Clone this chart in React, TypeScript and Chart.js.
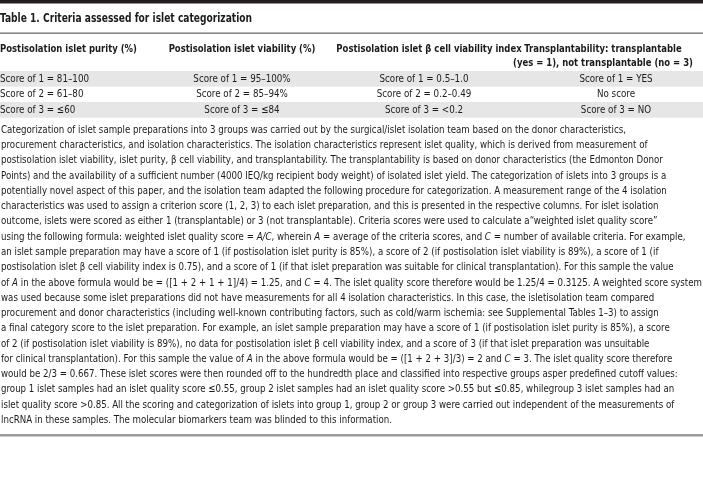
import React, { useEffect, useRef } from "react";
import { Chart, registerables } from "chart.js";

Chart.register(...registerables);

const titleText = "Table 1. Criteria assessed for islet categorization";

const headerLabels: string[][] = [
  ["Postisolation islet purity (%)"],
  ["Postisolation islet viability (%)"],
  ["Postisolation islet \u03B2 cell viability index"],
  ["Transplantability: transplantable", "(yes = 1), not transplantable (no = 3)"],
];

const purityScores = ["Score of 1 = 81\u2013100", "Score of 2 = 61\u201380", "Score of 3 = \u226460"];
const viabilityScores = ["Score of 1 = 95\u2013100%", "Score of 2 = 85\u201394%", "Score of 3 = \u226484"];
const betaIndexScores = ["Score of 1 = 0.5\u20131.0", "Score of 2 = 0.2\u20130.49", "Score of 3 = <0.2"];
const transplantScores = ["Score of 1 = YES", "No score", "Score of 3 = NO"];

// _X_ marks italic segments
const noteLines = [
  "Categorization of islet sample preparations into 3 groups was carried out by the surgical/islet isolation team based on the donor characteristics,",
  "procurement characteristics, and isolation characteristics. The isolation characteristics represent islet quality, which is derived from measurement of",
  "postisolation islet viability, islet purity, \u03B2 cell viability, and transplantability. The transplantability is based on donor characteristics (the Edmonton Donor",
  "Points) and the availability of a sufficient number (4000 IEQ/kg recipient body weight) of isolated islet yield. The categorization of islets into 3 groups is a",
  "potentially novel aspect of this paper, and the isolation team adapted the following procedure for categorization. A measurement range of the 4 isolation",
  "characteristics was used to assign a criterion score (1, 2, 3) to each islet preparation, and this is presented in the respective columns. For islet isolation",
  "outcome, islets were scored as either 1 (transplantable) or 3 (not transplantable). Criteria scores were used to calculate a\u201Cweighted islet quality score\u201D",
  "using the following formula: weighted islet quality score = _A/C_, wherein _A_ = average of the criteria scores, and _C_ = number of available criteria. For example,",
  "an islet sample preparation may have a score of 1 (if postisolation islet purity is 85%), a score of 2 (if postisolation islet viability is 89%), a score of 1 (if",
  "postisolation islet \u03B2 cell viability index is 0.75), and a score of 1 (if that islet preparation was suitable for clinical transplantation). For this sample the value",
  "of _A_ in the above formula would be = ([1 + 2 + 1 + 1]/4) = 1.25, and _C_ = 4. The islet quality score therefore would be 1.25/4 = 0.3125. A weighted score system",
  "was used because some islet preparations did not have measurements for all 4 isolation characteristics. In this case, the isletisolation team compared",
  "procurement and donor characteristics (including well-known contributing factors, such as cold/warm ischemia: see Supplemental Tables 1\u20133) to assign",
  "a final category score to the islet preparation. For example, an islet sample preparation may have a score of 1 (if postisolation islet purity is 85%), a score",
  "of 2 (if postisolation islet viability is 89%), no data for postisolation islet \u03B2 cell viability index, and a score of 3 (if that islet preparation was unsuitable",
  "for clinical transplantation). For this sample the value of _A_ in the above formula would be = ([1 + 2 + 3]/3) = 2 and _C_ = 3. The islet quality score therefore",
  "would be 2/3 = 0.667. These islet scores were then rounded off to the hundredth place and classified into respective groups asper predefined cutoff values:",
  "group 1 islet samples had an islet quality score \u22640.55, group 2 islet samples had an islet quality score >0.55 but \u22640.85, whilegroup 3 islet samples had an",
  "islet quality score >0.85. All the scoring and categorization of islets into group 1, group 2 or group 3 were carried out independent of the measurements of",
  "lncRNA in these samples. The molecular biomarkers team was blinded to this information.",
];

const FAMILY = "'Liberation Sans Narrow', 'DejaVu Sans Condensed', Roboto, sans-serif";
const INK = "#1c1a1b";

type Seg = { t: string; it: boolean };
function parseSegs(s: string): Seg[] {
  const parts = s.split("_");
  return parts.map((t, i) => ({ t, it: i % 2 === 1 })).filter((p) => p.t.length > 0);
}

function fontFor(size: number, bold: boolean, it: boolean) {
  return `${it ? "italic " : ""}${bold ? "bold " : ""}${size}px ${FAMILY}`;
}

function measure(ctx: CanvasRenderingContext2D, text: string, size: number, bold: boolean) {
  let total = 0;
  for (const s of parseSegs(text)) {
    ctx.font = fontFor(size, bold, s.it);
    total += ctx.measureText(s.t).width;
  }
  return total;
}

function drawLine(
  ctx: CanvasRenderingContext2D,
  text: string,
  x: number,
  y: number,
  align: "left" | "center",
  size: number,
  bold: boolean,
  sx: number
) {
  const segs = parseSegs(text);
  const total = measure(ctx, text, size, bold);
  const start = align === "center" ? x - (total * sx) / 2 : x;
  ctx.save();
  ctx.translate(start, y);
  ctx.scale(sx, 1);
  ctx.textAlign = "left";
  ctx.textBaseline = "middle";
  ctx.fillStyle = INK;
  let cx = 0;
  for (const s of segs) {
    ctx.font = fontFor(size, bold, s.it);
    ctx.fillText(s.t, cx, 0);
    cx += ctx.measureText(s.t).width;
  }
  ctx.restore();
}

const tablePlugin = {
  id: "tableDraw",
  afterDraw(chart: any) {
    const ctx: CanvasRenderingContext2D = chart.ctx;
    const X = (v: number) => chart.scales.x.getPixelForValue(v);
    const Y = (v: number) => chart.scales.y.getPixelForValue(v);
    const W = X(703) - X(0);

    ctx.save();
    ctx.fillStyle = "#ffffff";
    ctx.fillRect(0, 0, chart.width, chart.height);

    // top thick bar
    ctx.fillStyle = "#231f20";
    ctx.fillRect(X(0), Y(0), W, Y(3.5) - Y(0));

    // title
    const titleSize = 12.5;
    const sxTitle = 252 / measure(ctx, titleText, titleSize, true);
    drawLine(ctx, titleText, X(0), Y(19), "left", titleSize, true, sxTitle);

    // line under title
    ctx.fillStyle = "#6d6d6d";
    ctx.fillRect(X(0), Y(32.5), W, 1.3);

    // header
    const headSize = 11;
    const sxHead = 137 / measure(ctx, headerLabels[0][0], headSize, true);
    const headCenters = [0, 242, 429, 603];
    headerLabels.forEach((lines, ci) => {
      lines.forEach((ln, li) => {
        drawLine(ctx, ln, X(headCenters[ci]), Y(49.5 + li * 13.5), ci === 0 ? "left" : "center", headSize, true, sxHead);
      });
    });

    // row stripes
    const rowY = [79, 94.5, 110];
    ctx.fillStyle = "#e6e6e6";
    [0, 2].forEach((ri) => {
      ctx.fillRect(X(0), Y(rowY[ri] - 8), W, Y(rowY[ri] + 7.7) - Y(rowY[ri] - 8));
    });

    const cellSize = 11.3;
    const sxCell = 89 / measure(ctx, purityScores[0], cellSize, false);
    const bodyCols = [purityScores, viabilityScores, betaIndexScores, transplantScores];
    const bodyCenters = [0, 242, 424, 616];
    bodyCols.forEach((col, ci) => {
      col.forEach((txt, ri) => {
        drawLine(ctx, txt, X(bodyCenters[ci]), Y(rowY[ri]), ci === 0 ? "left" : "center", cellSize, false, sxCell);
      });
    });

    // footnote paragraph: scale so the widest line fills the width
    const noteSize = 11.3;
    const widest = Math.max(...noteLines.map((l) => measure(ctx, l, noteSize, false)));
    const sxNote = 701 / widest;
    noteLines.forEach((ln, i) => {
      drawLine(ctx, ln, X(1), Y(130 + i * 15.26), "left", noteSize, false, sxNote);
    });

    // bottom rule
    ctx.fillStyle = "#9b9b9b";
    ctx.fillRect(X(0), Y(434), W, Y(436.5) - Y(434));
    ctx.restore();
  },
};

export default function App() {
  const ref = useRef<HTMLCanvasElement | null>(null);
  useEffect(() => {
    document.body.style.margin = "0";
    if (!ref.current) return;
    const chart = new Chart(ref.current, {
      type: "scatter",
      data: { datasets: [{ data: [] }] },
      options: {
        animation: false,
        responsive: false,
        devicePixelRatio: 1,
        layout: { padding: 0 },
        plugins: { legend: { display: false }, tooltip: { enabled: false } },
        scales: {
          x: { type: "linear", min: 0, max: 703, display: false },
          y: { type: "linear", min: 0, max: 488, reverse: true, display: false },
        },
      },
      plugins: [tablePlugin],
    });
    return () => chart.destroy();
  }, []);
  return (
    <div style={{ width: 703, height: 488, background: "#fff" }}>
      <canvas ref={ref} width={703} height={488} style={{ width: 703, height: 488, display: "block" }} />
    </div>
  );
}
